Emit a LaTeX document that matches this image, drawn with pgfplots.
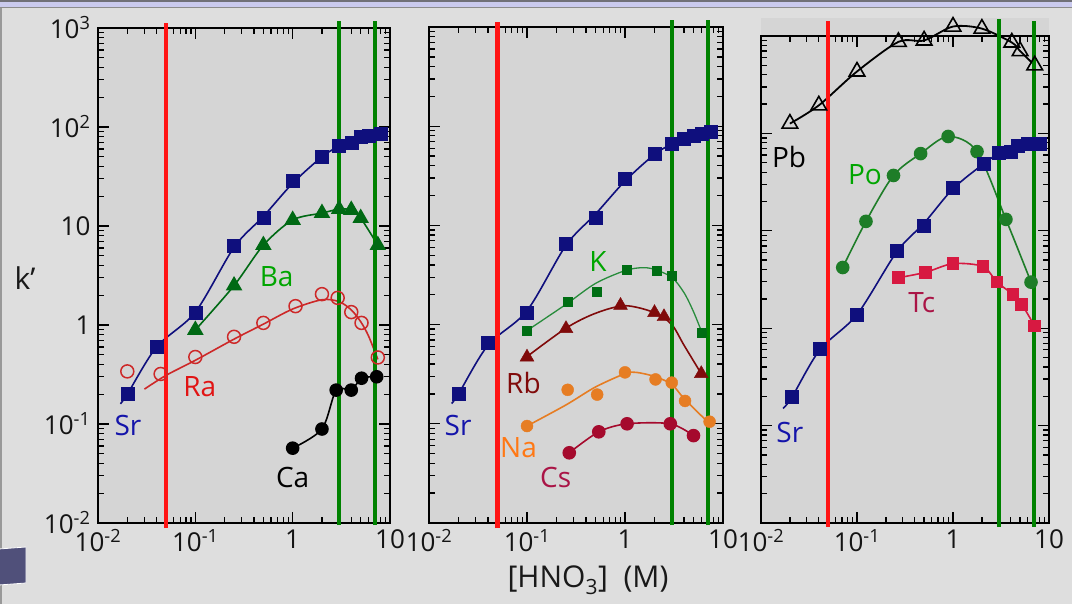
\documentclass[border=0pt]{standalone}
\usepackage{pgfplots}
\pgfplotsset{compat=1.18}
\usepackage{fontspec}
\setmainfont{Open Sans}
\definecolor{outerbg}{RGB}{222,222,222}
\definecolor{plotbg}{RGB}{213,213,213}
\definecolor{srblue}{RGB}{15,15,125}
\definecolor{srtext}{RGB}{20,20,170}
\definecolor{bagreen}{RGB}{0,105,20}
\definecolor{batext}{RGB}{0,165,0}
\definecolor{rared}{RGB}{205,40,40}
\definecolor{ratext}{RGB}{225,20,20}
\definecolor{kgreen}{RGB}{0,110,20}
\definecolor{kline}{RGB}{40,140,60}
\definecolor{rbred}{RGB}{128,10,10}
\definecolor{naorange}{RGB}{230,125,35}
\definecolor{natext}{RGB}{255,120,20}
\definecolor{cscrim}{RGB}{165,10,45}
\definecolor{cstext}{RGB}{170,20,70}
\definecolor{pogreen}{RGB}{30,125,40}
\definecolor{tcred}{RGB}{215,25,65}
\definecolor{tctext}{RGB}{170,20,70}
\definecolor{vred}{RGB}{255,20,20}
\definecolor{vgreen}{RGB}{0,130,0}
\definecolor{topband}{RGB}{112,112,120}
\definecolor{lavender}{RGB}{202,202,238}
\definecolor{deco}{RGB}{80,80,122}
\newcommand\tickfont{\fontsize{26}{28}\selectfont}
\newcommand\labfont{\fontsize{28}{30}\selectfont}
\newcommand\sps[1]{\textsuperscript{#1}}
\pgfplotsset{
  major tick length=11pt,
  minor tick length=6pt,
  tick align=inside,
  every tick/.style={line width=1.3pt, black},
  every axis/.append style={
    scale only axis, clip=false,
    xmin=0.01, xmax=10, ymin=0.01, ymax=1000,
    axis line style={line width=1.6pt, black},
    xtick={0.01,0.1,1,10},
    xticklabels={10\sps{-2},10\sps{-1},1,10},
    ytick={0.01,0.1,1,10,100,1000},
    minor xtick={0.02,0.03,0.04,0.05,0.06,0.07,0.08,0.09,0.2,0.3,0.4,0.5,0.6,0.7,0.8,0.9,2,3,4,5,6,7,8,9},
    minor ytick={0.02,0.03,0.04,0.05,0.06,0.07,0.08,0.09,0.2,0.3,0.4,0.5,0.6,0.7,0.8,0.9,2,3,4,5,6,7,8,9,20,30,40,50,60,70,80,90,200,300,400,500,600,700,800,900},
    ticklabel style={font=\tickfont, text=black!92},
    xticklabel style={yshift=-3pt},
    yticklabel style={xshift=-4pt},
  },
}
\begin{document}
\begin{tikzpicture}
% background
\fill[outerbg] (0pt,0pt) rectangle (1072pt,604pt);
\fill[topband] (0pt,602pt) rectangle (1072pt,604pt);
\fill[lavender] (0pt,597pt) rectangle (1072pt,602pt);
\fill[black!45] (0pt,595.5pt) rectangle (1072pt,597pt);
\fill[black!40] (0pt,0pt) rectangle (1.5pt,595.5pt);
\filldraw[fill=deco, draw=white, line width=0.8pt] (-1pt,55pt) -- (26pt,57pt) -- (26pt,21pt) -- (-1pt,19pt) -- cycle;
\fill[plotbg] (98pt,81pt) rectangle (390pt,576pt);
\fill[plotbg] (429pt,81pt) rectangle (723pt,577pt);
\fill[plotbg] (761pt,81pt) rectangle (1049pt,586pt);

%%%%%%%%%%%% Panel 1
\begin{loglogaxis}[at={(98pt,81pt)}, anchor=south west, width=292pt, height=495pt,
  yticklabels={10\sps{-2},10\sps{-1},1,10,10\sps{2},10\sps{3}}]
% Ra
\addplot[rared, line width=1.6pt, smooth] coordinates {(0.03,0.225)(0.05,0.31)(0.1,0.44)(0.25,0.72)(0.5,1.02)(1,1.45)(2,1.8)(3,1.72)(4,1.42)(5,1.08)(6,0.78)(7.5,0.45)};
\addplot[rared, only marks, mark=o, mark size=6.5pt, mark options={line width=1.5pt}] coordinates {(0.02,0.34)(0.044,0.32)(0.1,0.475)(0.25,0.76)(0.5,1.05)(1.07,1.55)(2,2.05)(2.9,1.88)(4,1.35)(5.1,1.05)(7.5,0.47)};
% Ca
\addplot[black, line width=1.6pt, smooth, mark=*, mark size=6pt] coordinates {(1,0.057)(2,0.089)(2.8,0.22)(4,0.22)(5.1,0.29)(7.3,0.30)};
% Ba
\addplot[bagreen, line width=1.6pt, smooth, mark=triangle*, mark size=8pt] coordinates {(0.1,0.89)(0.25,2.5)(0.5,6.4)(1,11.5)(2,13.5)(3,14.8)(4,14.5)(5,12)(7.5,6.4)};
% Sr
\addplot[srblue, line width=1.6pt, smooth] coordinates {(0.017,0.16)(0.02,0.2)(0.04,0.6)(0.1,1.35)(0.25,6.1)(0.5,12.5)(1,27)(2,50)(3,64)(4,71)(5,78)(6,82)(8,86)};
\addplot[srblue, only marks, mark=square*, mark size=6.5pt] coordinates {(0.02,0.20)(0.04,0.61)(0.1,1.32)(0.25,6.3)(0.5,12)(1,28.5)(2,50)(3,65)(4,69)(5,79)(6,82)(8,85)};
% vertical lines
\addplot[vred, line width=4.5pt] coordinates {(0.05,0.0089)(0.05,1120)};
\addplot[vgreen, line width=4.5pt] coordinates {(3,0.0095)(3,1177)};
\addplot[vgreen, line width=4.5pt] coordinates {(7,0.0095)(7,1177)};
\node[srtext, font=\labfont] at (axis cs:0.0203,0.096) {Sr};
\node[batext, font=\labfont] at (axis cs:0.685,3.05) {Ba};
\node[ratext, font=\labfont] at (axis cs:0.111,0.237) {Ra};
\node[black, font=\labfont] at (axis cs:1.0,0.029) {Ca};
\end{loglogaxis}

%%%%%%%%%%%% Panel 2
\begin{loglogaxis}[at={(429pt,81pt)}, anchor=south west, width=294pt, height=496pt,
  yticklabels={}]
% Cs
\addplot[cscrim, line width=1.6pt, smooth, mark=*, mark size=6pt] coordinates {(0.27,0.051)(0.54,0.083)(1.05,0.1)(2.9,0.1)(5,0.076)};
% Na
\addplot[naorange, line width=1.6pt, smooth] coordinates {(0.1,0.095)(0.25,0.155)(0.5,0.235)(1,0.32)(1.3,0.33)(2,0.3)(3,0.25)(4,0.18)(7.3,0.1)};
\addplot[naorange, only marks, mark=*, mark size=6pt] coordinates {(0.1,0.095)(0.26,0.22)(0.52,0.197)(1,0.33)(2.05,0.28)(3,0.26)(4.1,0.17)(7.3,0.105)};
% Rb
\addplot[rbred, line width=1.6pt, smooth] coordinates {(0.09,0.44)(0.25,0.92)(0.5,1.3)(1,1.55)(2,1.32)(3,1.0)(4,0.62)(6,0.32)};
\addplot[rbred, only marks, mark=triangle*, mark size=8pt] coordinates {(0.1,0.47)(0.25,0.91)(0.9,1.56)(2,1.32)(2.5,1.2)(6,0.32)};
% K
\addplot[kline, line width=1.3pt, smooth] coordinates {(0.1,0.87)(0.25,1.6)(0.5,2.6)(1,3.5)(1.5,3.75)(2,3.6)(3,3.0)(4,2.1)(5,1.35)(6.1,0.83)};
\addplot[kgreen, only marks, mark=square*, mark size=4.5pt] coordinates {(0.1,0.87)(0.26,1.7)(0.52,2.15)(1.05,3.6)(2.1,3.5)(3,3.1)(6.1,0.83)};
% Sr
\addplot[srblue, line width=1.6pt, smooth] coordinates {(0.017,0.16)(0.02,0.2)(0.04,0.62)(0.1,1.38)(0.25,6.3)(0.5,13)(1,28)(2,52)(3,66)(4,74)(5,80)(6,84)(7.5,88)};
\addplot[srblue, only marks, mark=square*, mark size=6.5pt] coordinates {(0.02,0.2)(0.04,0.66)(0.1,1.32)(0.25,6.6)(0.5,12)(1,29.6)(2,53)(3,67)(4,75)(5,80)(6,84)(7.5,88)};
\addplot[vred, line width=4.5pt] coordinates {(0.05,0.0089)(0.05,1120)};
\addplot[vgreen, line width=4.5pt] coordinates {(3,0.0095)(3,1177)};
\addplot[vgreen, line width=4.5pt] coordinates {(7,0.0095)(7,1177)};
\node[srtext, font=\labfont] at (axis cs:0.0198,0.096) {Sr};
\node[batext, font=\labfont] at (axis cs:0.53,4.3) {K};
\node[rbred, font=\labfont] at (axis cs:0.092,0.26) {Rb};
\node[natext, font=\labfont] at (axis cs:0.082,0.057) {Na};
\node[cstext, font=\labfont] at (axis cs:0.196,0.029) {Cs};
\end{loglogaxis}

%%%%%%%%%%%% Panel 3
\begin{loglogaxis}[at={(761pt,81pt)}, anchor=south west, width=288pt, height=487pt,
  yticklabels={}]
% Tc
\addplot[tcred, line width=1.6pt, smooth, mark=square*, mark size=5.5pt] coordinates {(0.27,3.3)(0.52,3.75)(1,4.6)(2.05,4.3)(2.87,2.97)(4.2,2.23)(5.2,1.76)(7.1,1.05)};
% Po
\addplot[pogreen, line width=1.6pt, smooth, mark=*, mark size=6pt] coordinates {(0.071,4.2)(0.124,12.5)(0.24,37)(0.46,62)(0.89,93)(1.78,65)(3.56,13.1)(6.5,2.97)};
% Pb
\addplot[black, line width=1.8pt, smooth, mark=triangle, mark size=9pt, mark options={fill=plotbg, line width=1.6pt}] coordinates {(0.02,126)(0.04,194)(0.1,432)(0.27,870)(0.5,900)(1,1250)(2,1190)(4.1,857)(5,700)(7.1,500)};
% Sr
\addplot[srblue, line width=1.6pt, smooth] coordinates {(0.017,0.15)(0.021,0.196)(0.041,0.6)(0.1,1.38)(0.26,6.1)(0.5,12)(1,27)(2.1,49)(3,62)(4,67)(4.7,73)(6,77)(8,79)};
\addplot[srblue, only marks, mark=square*, mark size=6.5pt] coordinates {(0.021,0.196)(0.041,0.61)(0.1,1.36)(0.26,6.3)(0.5,11.4)(1,28)(2.1,49)(3,64)(4,65)(4.7,75)(6,78)(8,78)};
\addplot[vred, line width=4.5pt] coordinates {(0.05,0.0091)(0.05,1425)};
\addplot[vgreen, line width=4.5pt] coordinates {(3,0.0091)(3,1500)};
\addplot[vgreen, line width=4.5pt] coordinates {(7,0.0091)(7,1425)};
\node[black, font=\labfont] at (axis cs:0.0196,56.7) {Pb};
\node[batext, font=\labfont] at (axis cs:0.121,38) {Po};
\node[tctext, font=\labfont] at (axis cs:0.473,1.85) {Tc};
\node[srtext, font=\labfont] at (axis cs:0.02,0.0859) {Sr};
\end{loglogaxis}

\node[font=\fontsize{30}{32}\selectfont, text=black!90] at (588pt,24pt) {[HNO\textsubscript{3}]~~(M)};
\node[font=\fontsize{30}{32}\selectfont, text=black!90] at (25pt,326pt) {k’};
\pgfresetboundingbox
\path[use as bounding box] (0pt,0pt) rectangle (1072pt,604pt);
\end{tikzpicture}
\end{document}
